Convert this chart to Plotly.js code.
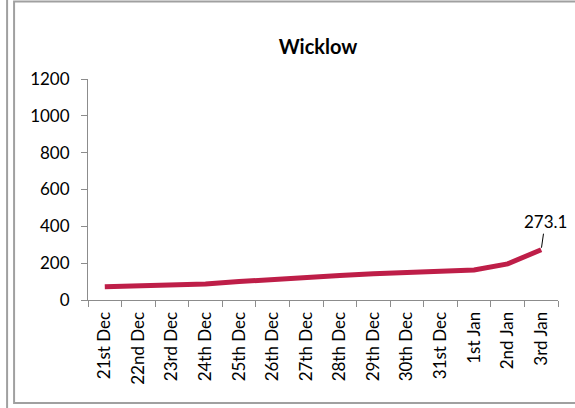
<!DOCTYPE html>
<html>
<head>
<meta charset="utf-8">
<script src="https://cdn.plot.ly/plotly-3.0.1.min.js"></script>
<style>
html,body{margin:0;padding:0;background:#fff;}
#chart{width:575px;height:408px;}
</style>
</head>
<body>
<div id="chart"></div>
<script>
const categories = ["21st Dec","22nd Dec","23rd Dec","24th Dec","25th Dec","26th Dec","27th Dec","28th Dec","29th Dec","30th Dec","31st Dec","1st Jan","2nd Jan","3rd Jan"];
const values = [72, 78, 81, 87, 100, 109, 120, 133, 143, 150, 156, 163, 196, 273.1];
const yTicks = [0, 200, 400, 600, 800, 1000, 1200];
const chartTitle = "Wicklow";

const lastIdx = values.length - 1;
const font = "Lato, 'Open Sans', sans-serif";
const gray = "#8c8c8c";

const trace = {
  type: "scatter",
  mode: "lines",
  x: categories,
  y: values,
  line: {color: "#BE1E48", width: 5},
  hoverinfo: "x+y"
};

const layout = {
  width: 575,
  height: 408,
  margin: {l: 87.5, r: 17, t: 79, b: 108, pad: 0},
  paper_bgcolor: "#ffffff",
  plot_bgcolor: "#ffffff",
  showlegend: false,
  font: {family: font, size: 17, color: "#000"},
  title: {
    text: "<b>" + chartTitle + "</b>",
    font: {family: font, size: 20, color: "#000"},
    xref: "container", x: 318/575, xanchor: "center",
    yref: "container", y: 1 - 47/408, yanchor: "middle"
  },
  xaxis: {
    type: "category",
    range: [-0.5, categories.length - 0.5],
    showline: true, linecolor: gray, linewidth: 1,
    ticks: "outside", ticklen: 6, tickcolor: gray, tickwidth: 1,
    tickson: "boundaries",
    tickangle: -90,
    ticklabelstandoff: 4,
    showgrid: false, zeroline: false,
    tickfont: {family: font, size: 17, color: "#000"}
  },
  yaxis: {
    range: [0, 1200],
    tickvals: yTicks,
    ticktext: yTicks.map(String),
    showline: true, linecolor: gray, linewidth: 1,
    ticks: "outside", ticklen: 6, tickcolor: gray, tickwidth: 1,
    ticklabelstandoff: 8,
    showgrid: false, zeroline: false,
    tickfont: {family: font, size: 17, color: "#000"}
  },
  annotations: [{
    x: categories[lastIdx], y: values[lastIdx],
    xref: "x", yref: "y",
    text: String(values[lastIdx]),
    showarrow: true, arrowhead: 0, arrowwidth: 1, arrowcolor: "#000",
    ax: 4, ay: -28, standoff: 2,
    font: {family: font, size: 17, color: "#000"}
  }],
  shapes: [
    {type: "line", xref: "paper", yref: "paper",
     x0: (6.5-87.5)/470.5, x1: (6.5-87.5)/470.5,
     y0: (300-0)/221, y1: (300-408)/221,
     line: {color: "#a0a0a0", width: 2}},
    {type: "rect", xref: "paper", yref: "paper",
     x0: (13.5-87.5)/470.5, x1: (585-87.5)/470.5,
     y0: (300-1.5)/221, y1: (300-403)/221,
     line: {color: "#a0a0a0", width: 2}}
  ]
};

Plotly.newPlot("chart", [trace], layout, {displayModeBar: false, staticPlot: true});
</script>
</body>
</html>
